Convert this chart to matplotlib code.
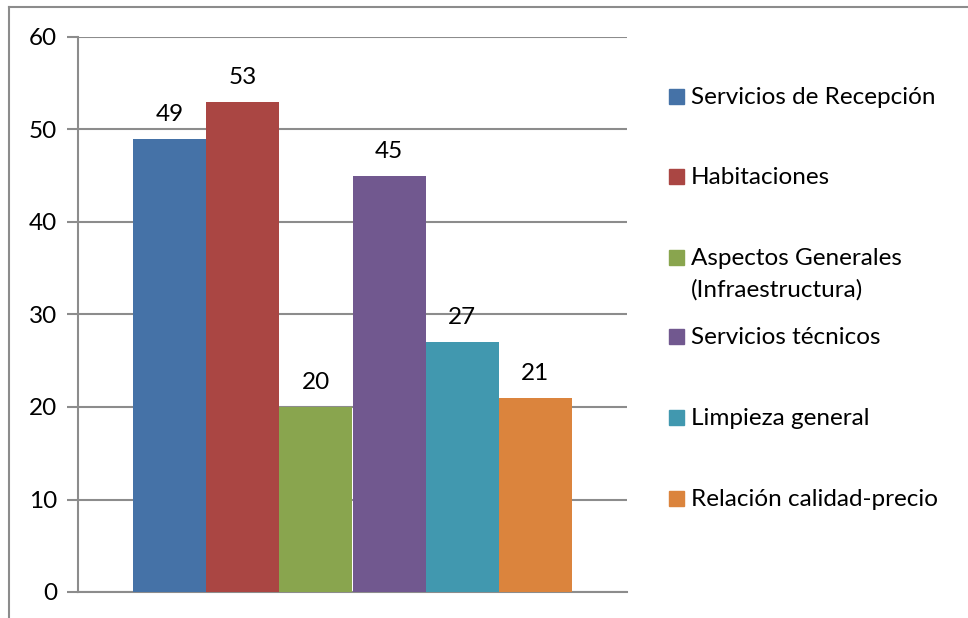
import matplotlib
matplotlib.use('Agg')
import matplotlib.pyplot as plt
from matplotlib.patches import Rectangle
from matplotlib.lines import Line2D

# 数据
categories = ['Servicios de Recepción', 'Habitaciones',
              'Aspectos Generales\n(Infraestructura)', 'Servicios técnicos',
              'Limpieza general', 'Relación calidad-precio']
values = [49, 53, 20, 45, 27, 21]
colors = ['#4572A7', '#AA4643', '#89A54E', '#71588F', '#4198AF', '#DB843D']
yticks = [0, 10, 20, 30, 40, 50, 60]

plt.rcParams['font.family'] = ['Lato', 'DejaVu Sans']
FS = 17.5
GRID = '#8c8c8c'

W, H = 968, 618
fig = plt.figure(figsize=(W / 100, H / 100), dpi=100)
ax = fig.add_axes([78 / W, 1 - 592 / H, (627 - 78) / W, (592 - 37) / H])

n = len(values)
bw = 0.8 / n
for i, (v, c) in enumerate(zip(values, colors)):
    x = -0.4 + bw * (i + 0.5)
    ax.bar(x, v, width=bw, color=c, zorder=3)
    ax.text(x, v + 1.5, str(v), ha='center', va='bottom', fontsize=FS, zorder=4)

ax.set_xlim(-0.5, 0.5)
ax.set_ylim(0, 60)
ax.set_yticks(yticks)
ax.set_xticks([])
ax.tick_params(axis='y', length=8, width=1.5, color=GRID, pad=7, labelsize=FS)
ax.grid(axis='y', color=GRID, linewidth=1.5, zorder=0)
for s in ['top', 'right']:
    ax.spines[s].set_visible(False)
for s in ['left', 'bottom']:
    ax.spines[s].set_color(GRID)
    ax.spines[s].set_linewidth(1.5)

# 图例（手动绘制）
ys = [97, 177, 258, 337, 418, 499]
for lbl, c, y in zip(categories, colors, ys):
    fig.patches.append(Rectangle((669 / W, 1 - (y + 7) / H), 15 / W, 15 / H,
                                 transform=fig.transFigure, color=c))
    fig.text(691 / W, 1 - (y - 10) / H, lbl, ha='left', va='top', fontsize=FS,
             linespacing=1.6)

# 外框
fig.add_artist(Line2D([9 / W, 1], [1 - 7 / H, 1 - 7 / H], color=GRID, lw=1.5))
fig.add_artist(Line2D([9 / W, 9 / W], [0, 1 - 7 / H], color=GRID, lw=1.5))

fig.savefig('out.png', dpi=100)
